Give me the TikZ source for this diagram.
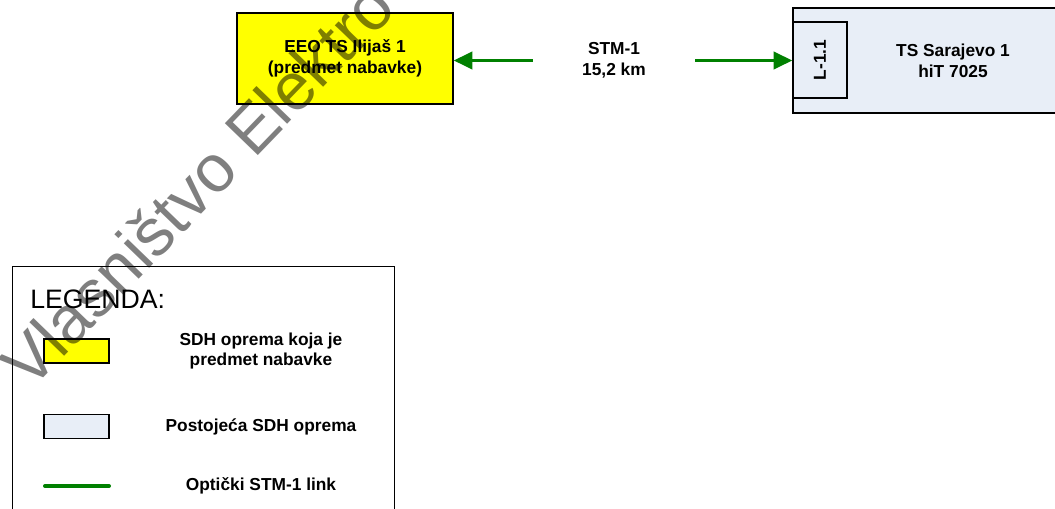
\documentclass[tikz,border=0pt]{standalone}
\usepackage{fontspec}
\setmainfont{Liberation Sans}
\usetikzlibrary{arrows.meta, positioning}
\definecolor{sdhyellow}{HTML}{FFFF00}
\definecolor{sdhblue}{HTML}{E8EEF7}
\definecolor{linkgreen}{HTML}{008000}

\begin{document}
\begin{tikzpicture}[
    x=0.75pt, y=-0.75pt,
    equip/.style={draw, line width=1.1pt, inner sep=0pt, font=\fontsize{13}{15.5}\selectfont\bfseries, align=center},
    neweq/.style={equip, fill=sdhyellow},
    oldeq/.style={equip, fill=sdhblue},
    txt/.style={font=\fontsize{13}{15.5}\selectfont\bfseries, align=center, inner sep=0pt},
    link/.style={draw=linkgreen, line width=2.4pt},
    arr/.style={link, -{Triangle[length=14pt, width=13pt]}},
]
    \useasboundingbox (0,0) rectangle (1055,509);
    \clip (0,0) rectangle (1055,509);

    % oprema
    \node[neweq, minimum width=162pt, minimum height=68.25pt] (ilijas) at (345,58.5) {EEO TS Ilijaš 1\\(predmet nabavke)};
    \node[oldeq, minimum width=240pt, minimum height=78.75pt] (sarajevo) at (953,60.5) {TS Sarajevo 1\\hiT 7025};
    \node[oldeq, minimum width=40.5pt, minimum height=57pt] (port) at (820,60) {};
    \node[txt, rotate=90] (portlbl) at (port.center) {L-1.1};

    % link
    \node[txt, minimum width=121.5pt] (stm) at (614,60.5) {STM-1\\15,2 km};
    \draw[arr] (stm.west) -- (stm.west -| ilijas.east);
    \draw[arr] (stm.east) -- (stm.east -| port.west);

    % legenda
    \node[draw, line width=0.9pt, inner sep=0pt, anchor=north west, minimum width=286.5pt, minimum height=200pt] (legend) at (12,266) {};
    \node[anchor=base west, inner sep=0pt, font=\fontsize{20}{24}\selectfont] (title) at (30,309) {LEGENDA:};
    \node[neweq, minimum width=48.75pt, minimum height=18pt] (key1) at (76.5,351) {};
    \node[oldeq, minimum width=48.75pt, minimum height=18pt, below=37.5pt of key1] (key2) {};
    \coordinate (key3w) at (45,486);
    \coordinate (key3e) at (109,486);
    \draw[link, line width=3pt, line cap=round] (key3w) -- (key3e);
    \node[txt] (lbl1) at (261,351) {SDH oprema koja je\\predmet nabavke};
    \node[txt] (lbl2) at (261,427) {Postojeća SDH oprema};
    \node[txt] (lbl3) at (261,486) {Optički STM-1 link};

    % vodeni znak
    \node[rotate=46, anchor=base west, inner sep=0pt, font=\fontsize{50}{50}\selectfont, text=black, text opacity=0.5] (mark) at (30,392) {Vlasništvo Elektro};
\end{tikzpicture}
\end{document}
